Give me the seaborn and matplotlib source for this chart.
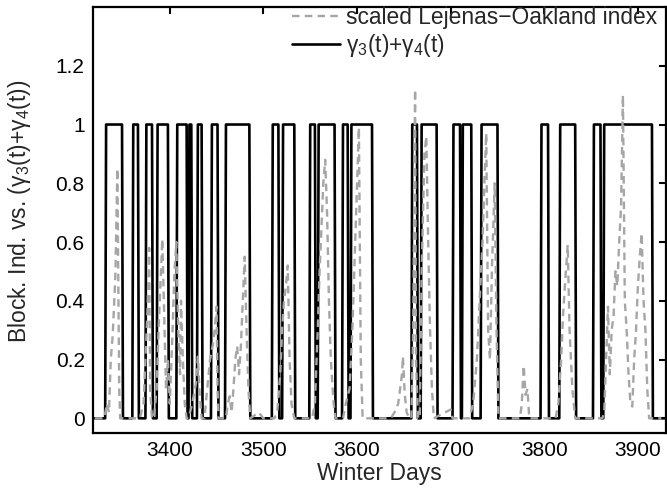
import numpy as np
import pandas as pd
import matplotlib
matplotlib.use("Agg")
import matplotlib.pyplot as plt
import seaborn as sns

# days where gamma3+gamma4 switches on / off (first and last day equal to 1)
block_start = [3332, 3361, 3375, 3387, 3408, 3421, 3430, 3445, 3460, 3510, 3521, 3550,
               3559, 3585, 3594, 3659, 3669, 3703, 3713, 3733, 3797, 3817, 3853, 3864]
block_end = [3349, 3366, 3381, 3398, 3418, 3423, 3434, 3451, 3485, 3516, 3533, 3555,
             3576, 3590, 3616, 3664, 3685, 3710, 3722, 3750, 3804, 3833, 3860, 3915]
day_first, day_last = 3320, 3930

# scaled Lejenas-Oakland index
lo_days = [3320, 3330, 3333, 3335, 3337, 3339, 3341, 3342, 3344, 3346, 3347,
           3368, 3372, 3374, 3376, 3378, 3379, 3381,
           3383, 3386, 3388, 3390, 3392, 3394, 3396, 3398,
           3400, 3403, 3405, 3407, 3409, 3411, 3412, 3414, 3416, 3418,
           3420, 3424, 3428, 3430, 3432, 3434,
           3437, 3440, 3443, 3446, 3448, 3450, 3451, 3452,
           3460, 3462, 3464, 3466, 3468, 3470, 3472, 3474, 3476, 3478, 3480, 3482, 3484, 3486,
           3495, 3500,
           3512, 3515, 3518, 3520, 3522, 3524, 3526, 3528, 3530, 3533,
           3552, 3555, 3558, 3560, 3562, 3564, 3566, 3568, 3570, 3572, 3575, 3577,
           3585, 3588, 3592, 3595, 3598, 3600, 3602, 3604, 3606,
           3636, 3640, 3644, 3646, 3648, 3649, 3651, 3653, 3656,
           3658, 3660, 3662, 3663, 3665,
           3667, 3669, 3672, 3674, 3676, 3678, 3680, 3682,
           3700, 3702,
           3720, 3724, 3728, 3731, 3734, 3736, 3738, 3740, 3742, 3744, 3747, 3749, 3751,
           3774, 3776, 3778, 3780, 3782, 3784,
           3812, 3815, 3818, 3820, 3822, 3825, 3827, 3830, 3833,
           3862, 3864, 3866, 3868, 3870, 3872, 3874, 3876, 3878, 3880, 3882, 3884, 3886,
           3888, 3890, 3892, 3894, 3896, 3898, 3900, 3902, 3904, 3906, 3908, 3910, 3912,
           3925]
lo_vals = [0, 0, 0.05, 0.02, 0.2, 0.28, 0.42, 0.5, 0.85, 0.1, 0,
           0, 0.05, 0.2, 0.35, 0.58, 0.1, 0,
           0, 0.1, 0.3, 0.45, 0.61, 0.35, 0.1, 0.2,
           0.05, 0.3, 0.5, 0.6, 0.3, 0.15, 0.4, 0.2, 0.05, 0,
           0, 0.05, 0.12, 0.21, 0.08, 0,
           0, 0.1, 0.2, 0.25, 0.3, 0.38, 0.1, 0,
           0, 0.05, 0.075, 0.02, 0.1, 0.2, 0.245, 0.15, 0.25, 0.4, 0.55, 0.3, 0.1, 0,
           0.02, 0,
           0, 0.03, 0.15, 0.3, 0.4, 0.45, 0.52, 0.2, 0.05, 0,
           0, 0.05, 0.3, 0.5, 0.65, 0.8, 0.88, 0.7, 0.4, 0.2, 0.05, 0,
           0, 0.05, 0.1, 0.3, 0.6, 0.8, 0.99, 0.2, 0,
           0, 0.02, 0.05, 0.1, 0.15, 0.21, 0.08, 0.02, 0,
           0, 0.3, 1.12, 0.2, 0,
           0, 0.5, 0.9, 0.96, 0.6, 0.3, 0.1, 0,
           0.03, 0,
           0, 0.05, 0.2, 0.4, 0.6, 0.8, 0.97, 0.3, 0.2, 0.5, 0.8, 0.3, 0,
           0, 0.05, 0.18, 0.08, 0.1, 0,
           0, 0.05, 0.2, 0.35, 0.45, 0.59, 0.3, 0.1, 0,
           0, 0.02, 0.2, 0.38, 0.15, 0.3, 0.35, 0.5, 0.45, 0.6, 0.72, 1.1, 0.4,
           0.3, 0.15, 0.05, 0.04, 0.2, 0.3, 0.45, 0.55, 0.63, 0.4, 0.3, 0.1, 0,
           0]

x_ticks = [3400, 3500, 3600, 3700, 3800, 3900]
y_ticks = [0, 0.2, 0.4, 0.6, 0.8, 1.0, 1.2]
y_ticklabels = ["0", "0.2", "0.4", "0.6", "0.8", "1", "1.2"]

sns.set_style("white")
plt.rcParams["font.family"] = ["Liberation Sans", "DejaVu Sans"]
plt.rcParams["mathtext.fontset"] = "custom"
plt.rcParams["mathtext.rm"] = "Liberation Sans"
plt.rcParams["mathtext.it"] = "Liberation Sans:italic"
plt.rcParams["mathtext.default"] = "rm"
plt.rcParams["lines.dashed_pattern"] = [3.2, 2.2]

days = np.arange(day_first, day_last + 1)
block = np.zeros(len(days))
for s, e in zip(block_start, block_end):
    block[(days >= s) & (days <= e)] = 1
df_block = pd.DataFrame({"day": days, "val": block})
df_lo = pd.DataFrame({"day": lo_days, "val": lo_vals})

fig = plt.figure(figsize=(6.67, 4.9), dpi=100)
ax = fig.add_axes([93 / 667, 57 / 490, 573 / 667, 426 / 490])

sns.lineplot(data=df_block, x="day", y="val", ax=ax, color="black", lw=1.9,
             estimator=None, label=r"γ$_3$(t)+γ$_4$(t)", zorder=2)
sns.lineplot(data=df_lo, x="day", y="val", ax=ax, color="#a6a6a6", lw=1.7,
             linestyle="--", estimator=None, label="scaled Lejenas\u2212Oakland index", zorder=3)

ax.set_xlim(3318, 3930)
ax.set_ylim(-0.05, 1.4)
ax.set_xticks(x_ticks)
ax.set_yticks(y_ticks)
ax.set_yticklabels(y_ticklabels)
ax.tick_params(direction="in", top=True, right=True, length=5, width=1.5,
               labelsize=15, colors="black", pad=6)
for sp in ax.spines.values():
    sp.set_linewidth(1.6)
    sp.set_color("black")

ax.set_xlabel("Winter Days", fontsize=16.5, labelpad=1)
ax.set_ylabel(r"Block. Ind. vs. (γ$_3$(t)+γ$_4$(t))", fontsize=16.5)
ax.yaxis.set_label_coords(-0.105, 0.52)

h, l = ax.get_legend_handles_labels()
ax.legend([h[1], h[0]], [l[1], l[0]], loc="upper left",
          bbox_to_anchor=(292 / 667, 1 - 6 / 490), bbox_transform=fig.transFigure,
          frameon=False, fontsize=16.4, handlelength=2.1, handletextpad=0.25,
          labelspacing=0.13, borderpad=0, borderaxespad=0)

fig.savefig("out.png", dpi=100)
